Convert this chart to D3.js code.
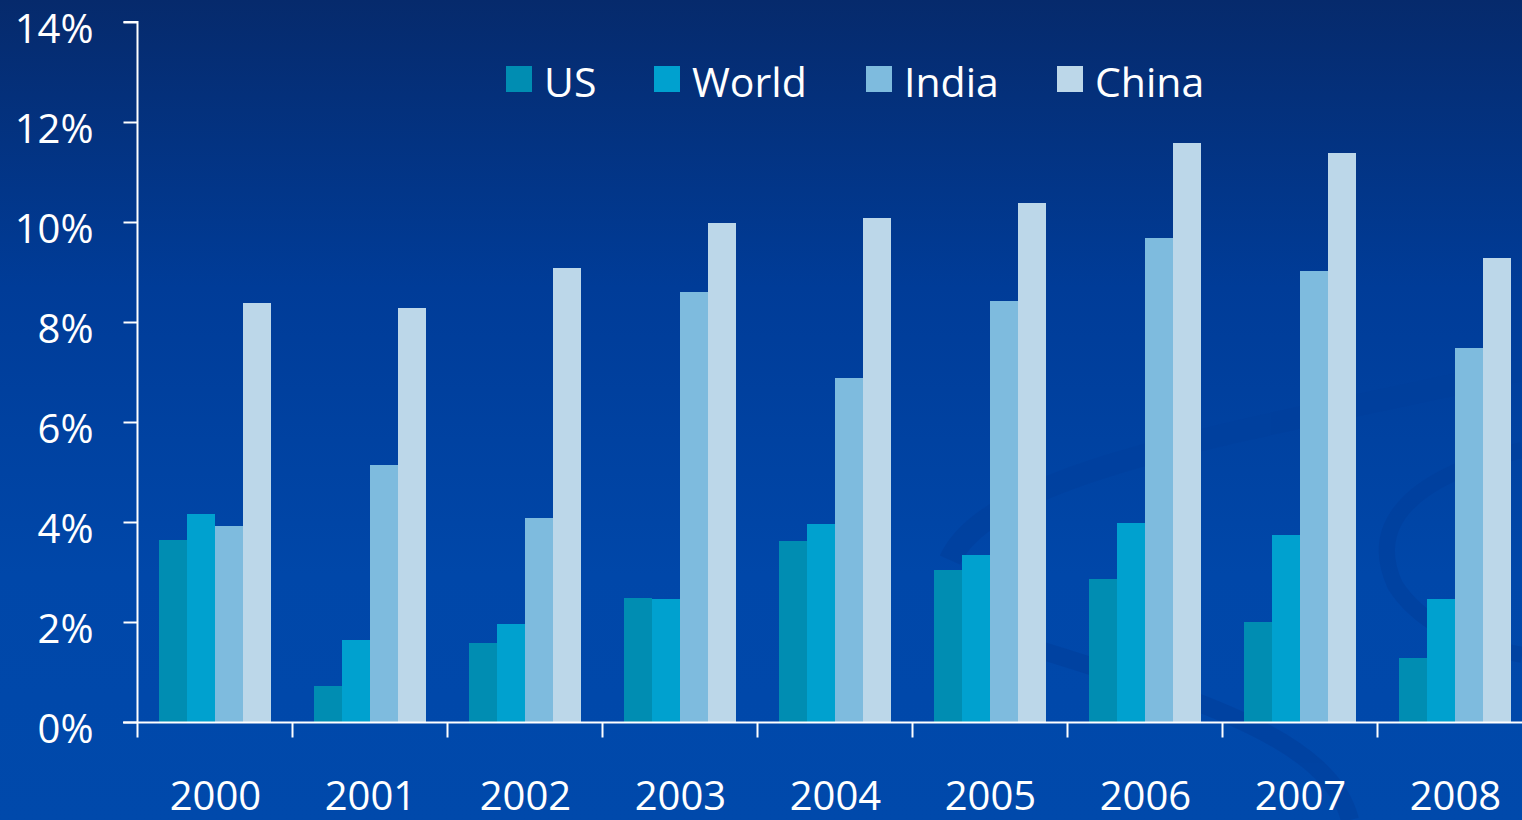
<!DOCTYPE html>
<html><head><meta charset="utf-8">
<script src="https://cdn.jsdelivr.net/npm/d3@7/dist/d3.min.js"></script>
<style>html,body{margin:0;padding:0;overflow:hidden;background:#0047a8}</style>
</head><body>
<svg id="c" width="1522" height="820"></svg>
<script>
const years = ["2000","2001","2002","2003","2004","2005","2006","2007","2008"];
const seriesNames = ["US","World","India","China"];
const usVals    = [3.64, 0.72, 1.58, 2.48, 3.62, 3.04, 2.86, 2.00, 1.28];
const worldVals = [4.16, 1.64, 1.96, 2.46, 3.96, 3.34, 3.98, 3.74, 2.46];
const indiaVals = [3.92, 5.14, 4.08, 8.60, 6.88, 8.42, 9.68, 9.02, 7.48];
const chinaVals = [8.38, 8.28, 9.08, 9.98, 10.08, 10.38, 11.58, 11.38, 9.28];
const yTicks = [0, 2, 4, 6, 8, 10, 12, 14];
const colors = ["#008db2", "#00a1cf", "#7ebbde", "#bcd7e9"];

const allSeries = [usVals, worldVals, indiaVals, chinaVals];
const svg = d3.select("#c");
const W = 1522, H = 820;
const font = "'Open Sans', sans-serif";

// background
const defs = svg.append("defs");
const g0 = defs.append("linearGradient").attr("id","bg").attr("x1",0).attr("y1",0).attr("x2",0).attr("y2",1);
g0.append("stop").attr("offset","0%").attr("stop-color","#062a6c");
g0.append("stop").attr("offset","35%").attr("stop-color","#003c98");
g0.append("stop").attr("offset","70%").attr("stop-color","#0047a9");
g0.append("stop").attr("offset","100%").attr("stop-color","#0049ab");
svg.append("rect").attr("width",W).attr("height",H).attr("fill","url(#bg)");

// faint decorative swooshes
const sw = svg.append("g").attr("fill","none").attr("stroke","#003f9c").attr("opacity",0.6);
sw.append("path").attr("d","M 950 560 C 990 470, 1250 430, 1522 370").attr("stroke-width",22);
sw.append("path").attr("d","M 1522 450 C 1400 480, 1370 530, 1395 585 C 1420 625, 1470 645, 1522 655").attr("stroke-width",16);
sw.append("path").attr("d","M 1040 650 C 1200 700, 1330 740, 1350 820").attr("stroke-width",18);

const x0 = 137, yBase = 722;
const x = d3.scaleBand().domain(years).range([x0, x0 + 155*9]).paddingInner(0).paddingOuter(0);
const y = d3.scaleLinear().domain([0,14]).range([yBase, 22]);
const xi = d3.scaleBand().domain(seriesNames).range([22, 22+112]);

// bars
years.forEach((yr, i) => {
  const g = svg.append("g").attr("transform", `translate(${x(yr)},0)`);
  allSeries.forEach((vals, s) => {
    g.append("rect")
      .attr("x", xi(seriesNames[s]))
      .attr("width", xi.bandwidth())
      .attr("y", y(vals[i]))
      .attr("height", y(0) - y(vals[i]))
      .attr("fill", colors[s]);
  });
});

// y axis
const yAxis = d3.axisLeft(y).tickValues(yTicks).tickSize(14).tickFormat(d => d + "%");
const ya = svg.append("g").attr("transform", `translate(${x0 + 0.5},0)`).call(yAxis);
ya.select(".domain").attr("stroke","#ffffff").attr("stroke-width",2).attr("d", `M-14,${y(14)}H0V${yBase}`);
ya.selectAll(".tick line").attr("stroke","#ffffff").attr("stroke-width",2);
ya.selectAll(".tick text").attr("fill","#ffffff").attr("font-family",font).attr("font-size",40)
  .attr("x",-44).attr("dy","0.5em").attr("text-anchor","end");

// x axis
const xa = svg.append("g").attr("transform", `translate(0,${yBase + 0.5})`);
xa.append("line").attr("x1", x0 - 14).attr("x2", W).attr("y1",0).attr("y2",0).attr("stroke","#ffffff").attr("stroke-width",2);
years.forEach(yr => {
  xa.append("line").attr("x1", x(yr)+0.5).attr("x2", x(yr)+0.5).attr("y1",0).attr("y2",15).attr("stroke","#ffffff").attr("stroke-width",2);
  xa.append("text").attr("x", x(yr) + x.bandwidth()/2 + 1).attr("y", 809 - yBase)
    .attr("text-anchor","middle").attr("fill","#ffffff").attr("font-family",font).attr("font-size",40).text(yr);
});

// legend
const legendX = [506, 654, 866, 1057];
const lg = svg.append("g");
seriesNames.forEach((n, s) => {
  lg.append("rect").attr("x", legendX[s]).attr("y", 66).attr("width", 26).attr("height", 26).attr("fill", colors[s]);
  lg.append("text").attr("x", legendX[s] + 38).attr("y", 97).attr("fill","#ffffff")
    .attr("font-family",font).attr("font-size",41).text(n);
});
</script>
</body></html>
